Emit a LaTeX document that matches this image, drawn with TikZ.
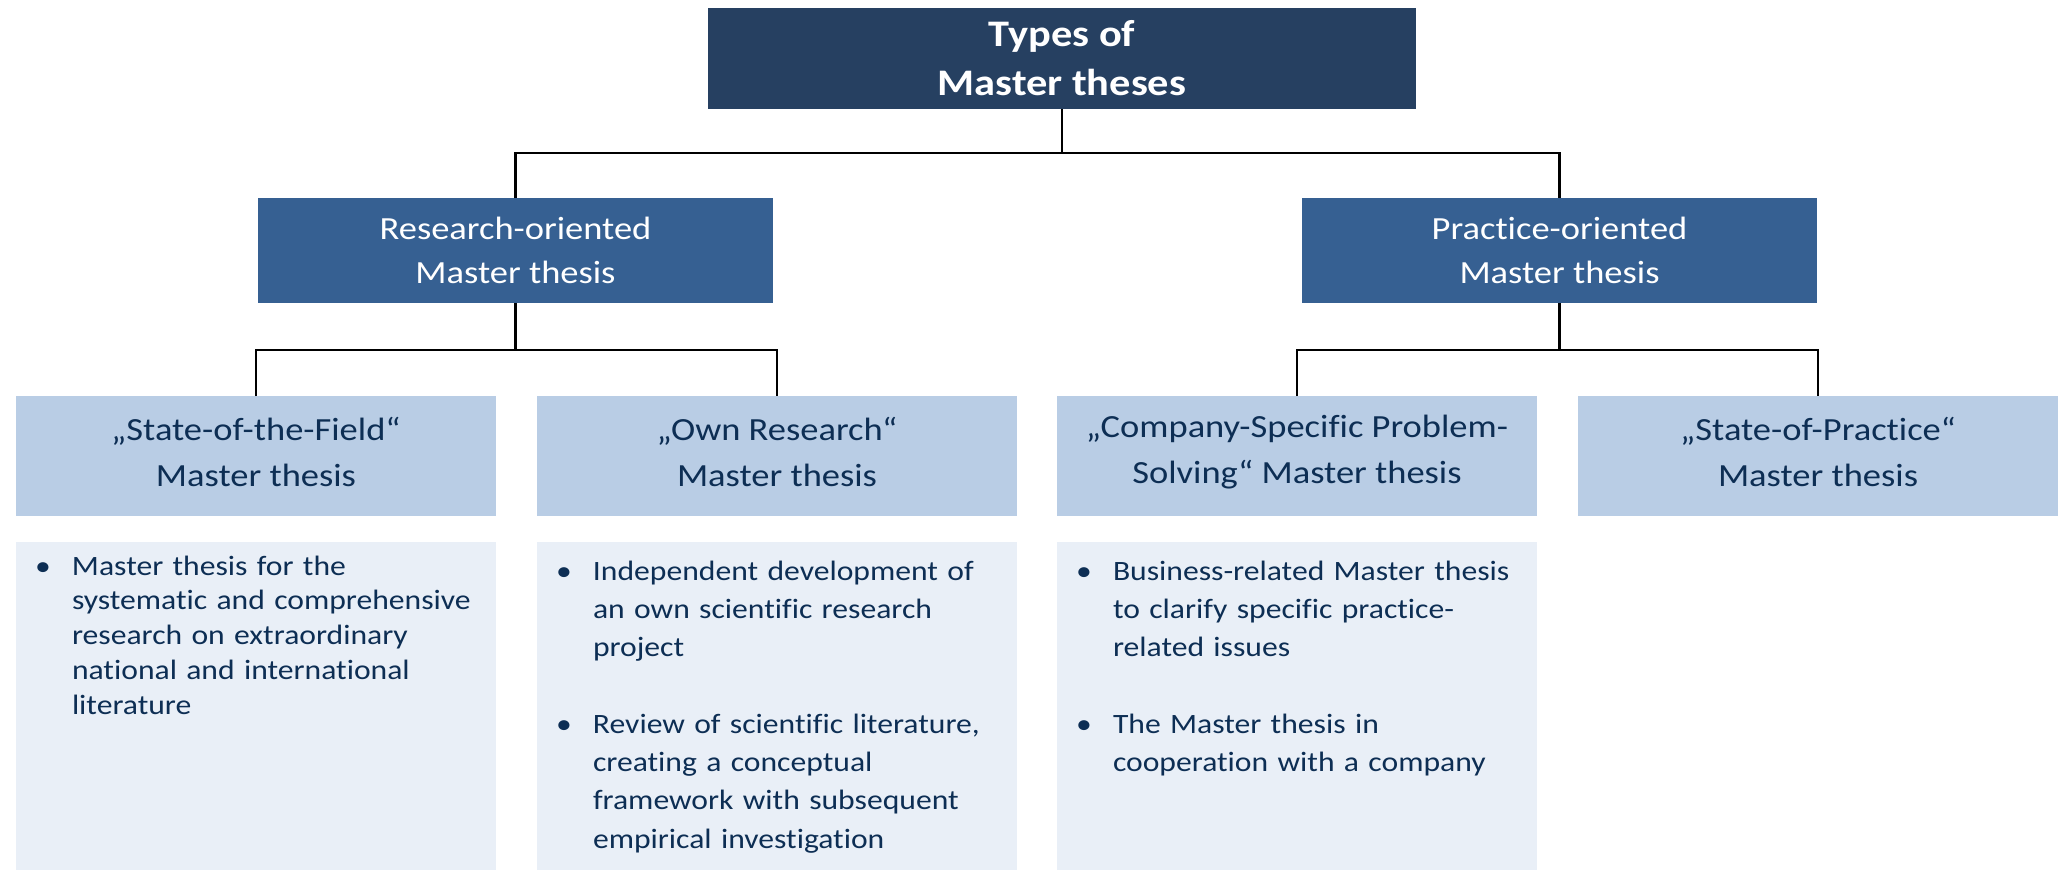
\documentclass[tikz,border=0pt]{standalone}
\usepackage{fontspec}
\setmainfont{Carlito}[FakeStretch=1.13,Ligatures=NoCommon]
\definecolor{topblue}{RGB}{38,64,97}
\definecolor{midblue}{RGB}{54,96,146}
\definecolor{lightblue}{RGB}{185,205,229}
\definecolor{paleblue}{RGB}{233,239,247}
\definecolor{navytext}{RGB}{13,46,84}
\newcommand{\bitem}[1]{\ifvmode\noindent\fi\llap{\makebox[37pt][l]{\textbullet}}#1\par}
\begin{document}
\begin{tikzpicture}[x=1pt,y=-1pt,
  topbox/.style={fill=topblue, text=white, inner sep=0, outer sep=0,
    minimum width=708pt, minimum height=101pt, align=center,
    font=\fontsize{37.5}{49}\selectfont\bfseries},
  midbox/.style={fill=midblue, text=white, inner sep=0, outer sep=0,
    minimum width=515pt, minimum height=105pt, align=center,
    font=\fontsize{32.3}{44}\selectfont},
  leafbox/.style={fill=lightblue, text=navytext, inner sep=0, outer sep=0,
    minimum width=480pt, minimum height=120pt, align=center,
    font=\fontsize{32.3}{46}\selectfont},
  descbox/.style={fill=paleblue, inner sep=0, outer sep=0,
    minimum width=480pt, minimum height=328pt},
  desctext/.style={text=navytext, inner sep=0, outer sep=0, anchor=base west,
    text width=450pt, align=left, xshift=19pt},
  conn/.style={draw=black, line width=2.2pt}
]
\fill[white] (0,0) rectangle (2058,870);
\useasboundingbox (0,0) rectangle (2058,870);

% boxes
\node[topbox] (top) at (1062,58.5) {Types of\\Master theses};
\node[midbox] (res) at (515.5,250.5) {Research-oriented\\Master thesis};
\node[midbox] (prac) at (1559.5,250.5) {Practice-oriented\\Master thesis};

\node[leafbox] (sotf) at (256,456) {};
\node[leafbox] (own) at (777,456) {};
\node[leafbox] (comp) at (1297,456) {};
\node[leafbox] (sop) at (1818,456) {};
\node[leafbox, fill=none, minimum width=0pt, minimum height=0pt, yshift=4pt] (sotfl) at (sotf) {„State-of-the-Field“\\Master thesis};
\node[leafbox, fill=none, minimum width=0pt, minimum height=0pt, yshift=4pt] (ownl) at (own) {„Own Research“\\Master thesis};
\node[leafbox, fill=none, minimum width=0pt, minimum height=0pt, yshift=4pt] (compl) at (comp) {„Company-Specific Problem-\\Solving“ Master thesis};
\node[leafbox, fill=none, minimum width=0pt, minimum height=0pt, yshift=4pt] (sopl) at (sop) {„State-of-Practice“\\Master thesis};

\node[descbox] (d1) at (256,706) {};
\node[descbox] (d2) at (777,706) {};
\node[descbox] (d3) at (1297,706) {};

\node[desctext, yshift=-33pt, font=\fontsize{28}{34.9}\selectfont] (t1) at (d1.north west)
  {\leftskip=37pt\relax
   \bitem{Master thesis for the\\systematic and comprehensive\\research on extraordinary\\national and international\\literature}};
\node[desctext, yshift=-38pt, font=\fontsize{28}{38.3}\selectfont] (t2) at (d2.north west)
  {\leftskip=37pt\relax
   \bitem{Independent development of\\an own scientific research\\project}
   \vspace{38.4pt}
   \bitem{Review of scientific literature,\\creating a conceptual\\framework with subsequent\\empirical investigation}};
\node[desctext, yshift=-38pt, font=\fontsize{28}{38.3}\selectfont] (t3) at (d3.north west)
  {\leftskip=37pt\relax
   \bitem{Business-related Master thesis\\to clarify specific practice-\\related issues}
   \vspace{38.4pt}
   \bitem{The Master thesis in\\cooperation with a company}};

% connectors
\coordinate (b0) at (1062,153);
\coordinate (b1) at (515.5,350);
\coordinate (b2) at (1559.5,350);
\draw[conn] (top.south) -- (b0);
\draw[conn] (res.north) |- (b0) -| (prac.north);
\draw[conn] (res.south) -- (b1);
\draw[conn] (sotf.north) |- (b1) -| (own.north);
\draw[conn] (prac.south) -- (b2);
\draw[conn] (comp.north) |- (b2) -| (sop.north);
\end{tikzpicture}
\end{document}
